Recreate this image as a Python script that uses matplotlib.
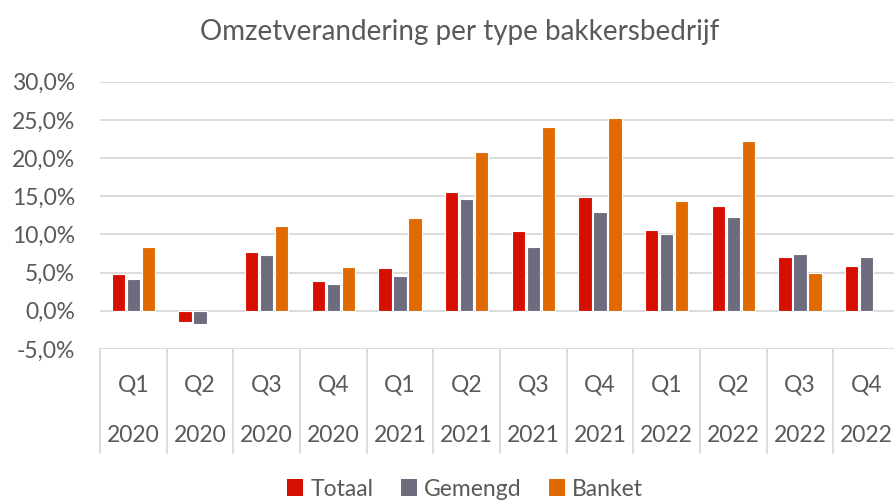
import numpy as np
import matplotlib
matplotlib.use("Agg")
import matplotlib.pyplot as plt
from matplotlib.patches import Patch

plt.rcParams['font.family'] = ['Lato', 'DejaVu Sans']

quarters = ['Q1', 'Q2', 'Q3', 'Q4'] * 3
years = ['2020'] * 4 + ['2021'] * 4 + ['2022'] * 4

totaal = [4.8, -1.5, 7.7, 3.9, 5.6, 15.5, 10.5, 14.9, 10.6, 13.7, 7.0, 5.9]
gemengd = [4.2, -1.7, 7.3, 3.5, 4.6, 14.7, 8.3, 13.0, 10.0, 12.3, 7.4, 7.1]
banket = [8.4, np.nan, 11.1, 5.8, 12.2, 20.8, 24.1, 25.2, 14.4, 22.3, 5.0, np.nan]

series = [('Totaal', totaal, '#D51000'),
          ('Gemengd', gemengd, '#6D6C7F'),
          ('Banket', banket, '#E06A00')]

yticks = np.arange(-5, 31, 5)
txt = '#595959'
fs = 16.5

W, H = 895, 503
fig = plt.figure(figsize=(W / 100, H / 100), dpi=100)
left, right, top, bottom = 100, 900, 81.7, 349
ax = fig.add_axes([left / W, 1 - bottom / H, (right - left) / W, (bottom - top) / H])

x = np.arange(len(quarters))
step = 0.225
for i, (name, vals, col) in enumerate(series):
    ax.bar(x + (i - 1) * step, vals, width=0.2, color=col,
           edgecolor='white', linewidth=0.8, zorder=3, label=name)

ax.set_xlim(-0.5, len(quarters) - 0.5)
ax.set_ylim(-5, 30)
ax.set_yticks(yticks)
ax.set_yticklabels([f'{v:.1f}'.replace('.', ',') + '%' for v in yticks],
                   fontsize=fs, color=txt)
ax.tick_params(axis='y', length=0, pad=18)
ax.set_xticks([])
ax.grid(axis='y', color='#D9D9D9', linewidth=1.3, zorder=0)
for s in ax.spines.values():
    s.set_visible(False)

# multi-level category axis
trans = ax.get_xaxis_transform()
axh = bottom - top
for k in range(len(quarters) + 1):
    ax.plot([k - 0.5, k - 0.5], [0, -(452.7 - bottom) / axh], transform=trans,
            color='#D9D9D9', linewidth=1.3, clip_on=False)
for xi, q, yr in zip(x, quarters, years):
    ax.text(xi, -(385 - bottom) / axh, q, transform=trans, ha='center',
            va='center', fontsize=fs, color=txt)
    ax.text(xi, -(436 - bottom) / axh, yr, transform=trans, ha='center',
            va='center', fontsize=fs, color=txt)

fig.text(460 / W, 1 - 32 / H, 'Omzetverandering per type bakkersbedrijf',
         ha='center', va='center', fontsize=20, color=txt)

handles = [Patch(facecolor=c, edgecolor='none') for _, _, c in series]
fig.legend(handles, [n for n, _, _ in series], loc='center',
           bbox_to_anchor=(465 / W, 1 - 489 / H), ncol=3, frameon=False,
           fontsize=fs, labelcolor=txt, handlelength=0.7, handleheight=0.7,
           handletextpad=0.3, columnspacing=1.2)

fig.savefig('out.png', dpi=100)
